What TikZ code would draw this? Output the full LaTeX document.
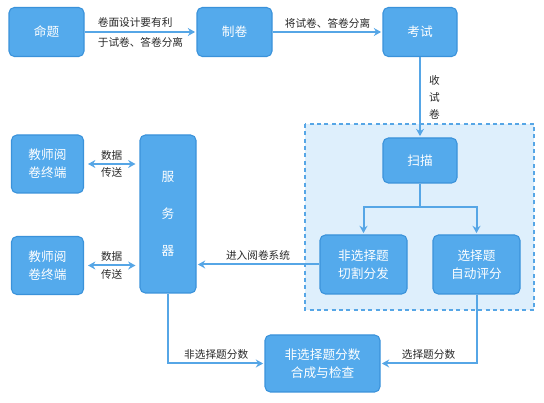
\documentclass[tikz,border=0pt]{standalone}
\usepackage{fontspec}
\setmainfont{Noto Sans CJK SC}
\usetikzlibrary{arrows.meta}

\definecolor{boxblue}{RGB}{84,170,236}
\definecolor{boxedge}{RGB}{58,146,218}
\definecolor{linkblue}{RGB}{86,166,230}
\definecolor{areablue}{RGB}{222,239,252}
\definecolor{txtgray}{RGB}{40,40,40}

\tikzset{
  box/.style={draw=boxedge, line width=0.8pt, fill=boxblue, rounded corners=4pt,
    text=white, font=\fontsize{9.5}{13.5}\selectfont, align=center, inner sep=0pt},
  link/.style={draw=linkblue, line width=1.5pt, -{Stealth[length=5.5pt,width=6pt]}, shorten >=1pt},
  dlink/.style={link, {Stealth[length=5.5pt,width=6pt]}-{Stealth[length=5.5pt,width=6pt]},
    shorten >=3pt, shorten <=3pt},
  lbl/.style={text=txtgray, font=\fontsize{8}{15}\selectfont, inner sep=2pt},
}

\begin{document}
\begin{tikzpicture}[x=0.75pt,y=-0.75pt]
\useasboundingbox (0,0) rectangle (544,403);

\draw[draw=linkblue, fill=areablue, line width=1.2pt, dash pattern=on 3pt off 2.5pt]
  (305,124) rectangle (534,310);

\node[box, minimum width=56.25pt, minimum height=36.75pt] (mingti) at (46.5,32) {命题};
\node[box, minimum width=56.25pt, minimum height=36.75pt] (zhijuan) at (234.5,32) {制卷};
\node[box, minimum width=55.5pt, minimum height=36.75pt] (kaoshi) at (420,32) {考试};
\node[box, minimum width=55.5pt, minimum height=33.75pt] (saomiao) at (420,160.5) {扫描};
\node[box, minimum width=65.25pt, minimum height=44.25pt] (feixuan) at (363.5,264.5) {非选择题\\切割分发};
\node[box, minimum width=65.25pt, minimum height=44.25pt] (xuanze) at (476.5,264.5) {选择题\\自动评分};
\node[box, minimum width=54pt, minimum height=43.5pt] (jiaoshiA) at (47.5,164) {教师阅\\卷终端};
\node[box, minimum width=54pt, minimum height=43.5pt] (jiaoshiB) at (47.5,265.5) {教师阅\\卷终端};
\node[box, minimum width=42pt, minimum height=118.5pt] (fuwuqi) at (168,214) {服\\[14.5pt]务\\[14.5pt]器};
\node[box, minimum width=86.25pt, minimum height=42.75pt] (hecheng) at (322.5,363.5) {非选择题分数\\合成与检查};

\draw[link] (mingti) -- node[lbl, align=left] {卷面设计要有利\\于试卷、答卷分离} (zhijuan);
\draw[link] (zhijuan) -- node[lbl, above] {将试卷、答卷分离} (kaoshi);
\draw[link] (kaoshi) -- node[lbl, right=4pt, align=center, font=\fontsize{8}{12.5}\selectfont] {收\\试\\卷} (saomiao);

\draw[linkblue, line width=1.5pt] (saomiao.south) -- ++(0,23) coordinate (fenzhi);
\draw[link] (fenzhi) -| (feixuan.north);
\draw[link] (fenzhi) -| (xuanze.north);

\foreach \t in {jiaoshiA,jiaoshiB}
  \draw[dlink] (\t.east) -- node[lbl, above] {数据} node[lbl, below] {传送} (\t.east -| fuwuqi.west);

\draw[link] (feixuan.west) -- node[lbl, above] {进入阅卷系统} (feixuan.west -| fuwuqi.east);
\draw[link] (fuwuqi.south) |- node[lbl, above, pos=0.75] {非选择题分数} (hecheng.west);
\draw[link] (xuanze.south) |- node[lbl, above, pos=0.75] {选择题分数} (hecheng.east);
\end{tikzpicture}
\end{document}
